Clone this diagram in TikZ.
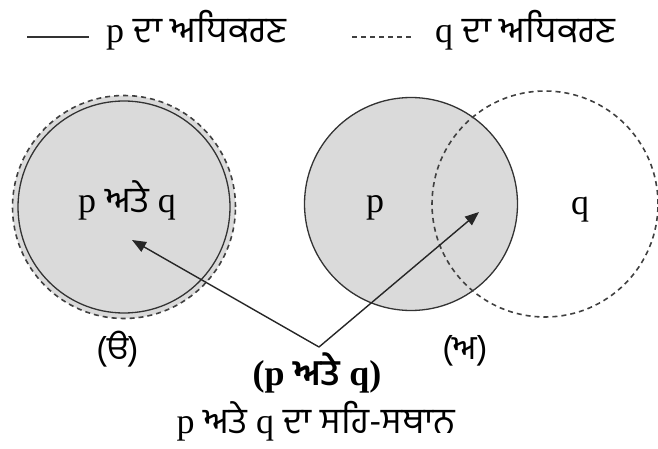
\documentclass[tikz,border=0pt]{standalone}
\usepackage{fontspec}
\setmainfont{Liberation Serif}
\newfontfamily\gur[Script=Gurmukhi]{Hind Jalandhar}
\usetikzlibrary{arrows.meta}
\definecolor{shade}{RGB}{218,218,218}
\begin{document}
\begin{tikzpicture}[x=1pt,y=-1pt,
  pline/.style={draw=black!80, line width=1.3pt},
  qline/.style={draw=black!75, line width=1.6pt, dash pattern=on 5pt off 4pt},
  ring/.style={circle, inner sep=0pt, minimum size=#1},
  lbl/.style={font=\fontsize{36}{40}\selectfont, inner sep=0pt},
  sublbl/.style={font=\gur\fontsize{34}{40}\selectfont, inner sep=0pt},
  ptr/.style={-{Triangle[length=14pt,width=11pt]}, line width=1.4pt, draw=black!85}]
\useasboundingbox (0,0) rectangle (658,449);
% legend
\coordinate (l1a) at (27,37);
\coordinate (l1b) at (89,37);
\draw[pline] (l1a) -- (l1b);
\node[lbl, anchor=base west] (leg1) at (106,43) {p {\gur ਦਾ ਅਧਿਕਰਣ}};
\coordinate (l2a) at (352,37);
\coordinate (l2b) at (412,37);
\draw[qline] (l2a) -- (l2b);
\node[lbl, anchor=base west] (leg2) at (435,43) {q {\gur ਦਾ ਅਧਿਕਰਣ}};
% left figure
\node[ring=223pt, fill=shade, qline] (Q1) at (124,207) {};
\node[ring=212pt, pline] (P1) at (124,207) {};
\node[lbl, anchor=base] (c1) at (127,212) {p {\gur ਅਤੇ} q};
\node[sublbl, anchor=base] (s1) at (118,360) {(ੳ)};
% right figure
\node[ring=213pt, fill=shade, pline] (P2) at (411,204) {};
\node[ring=226pt, qline] (Q2) at (545,204) {};
\node[lbl, anchor=base] (pp) at (375,212) {p};
\node[lbl, anchor=base] (qq) at (580,214) {q};
\node[sublbl, anchor=base] (s2) at (465,359) {(ਅ)};
% arrows
\coordinate (apex) at (319,347);
\coordinate (tipL) at (132,240);
\coordinate (tipR) at (479,212);
\draw[ptr] (apex) -- (tipL);
\draw[ptr] (apex) -- (tipR);
% bottom texts
\node[lbl, anchor=base, font=\bfseries\fontsize{36}{40}\selectfont] (both) at (317,385) {(p {\gur ਅਤੇ} q)};
\node[lbl, anchor=base] (cap) at (316,433) {p {\gur ਅਤੇ} q {\gur ਦਾ ਸਹਿ-ਸਥਾਨ}};
\end{tikzpicture}
\end{document}
